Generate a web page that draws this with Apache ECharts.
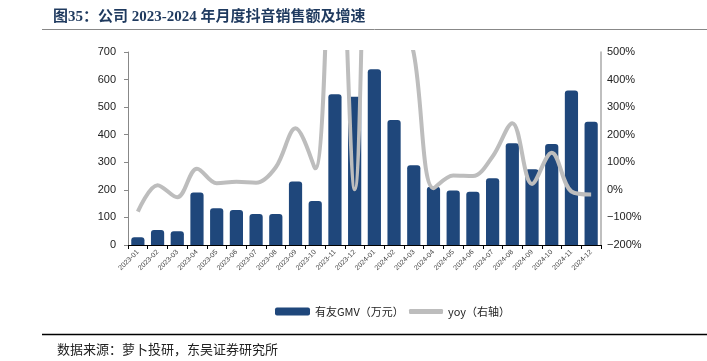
<!DOCTYPE html>
<html>
<head>
<meta charset="utf-8">
<script src="https://cdn.jsdelivr.net/npm/echarts@6/dist/echarts.min.js"></script>
<style>html,body{margin:0;padding:0;background:#fff;}#c{width:707px;height:361px;}</style>
</head>
<body>
<div id="c"></div>
<script>
const categories = ['2023-01','2023-02','2023-03','2023-04','2023-05','2023-06','2023-07','2023-08','2023-09','2023-10','2023-11','2023-12',
  '2024-01','2024-02','2024-03','2024-04','2024-05','2024-06','2024-07','2024-08','2024-09','2024-10','2024-11','2024-12'];
const gmv = [28,54,50,190,133,127,112,112,230,160,547,538,637,453,289,211,198,193,242,369,275,366,560,447];
const yoy = [-79,17,-27,77,24,29,26,82,223,78,1400,2,2175,739,495,6,52,50,121,242,21,135,-6,-17];
const leftTicks = [0,100,200,300,400,500,600,700];
const rightTicks = [-200,-100,0,100,200,300,400,500];

const chart = echarts.init(document.getElementById('c'));
const serifCJK = '"Liberation Serif","Noto Sans CJK SC",serif';
const legendText = {fontFamily: '"Noto Sans CJK SC",sans-serif', fontSize: 11, color: '#222'};
chart.setOption({
  animation: false,
  backgroundColor: '#fff',
  title: [
    {text: '图35：公司 2023-2024 年月度抖音销售额及增速', left: 48, top: 5,
     textStyle: {fontFamily: serifCJK, fontSize: 15, fontWeight: 'bold', color: '#1F3A5F'}},
    {text: '数据来源：萝卜投研，东吴证券研究所', left: 52, top: 339,
     textStyle: {fontFamily: serifCJK, fontSize: 13, fontWeight: 'normal', color: '#222'}}
  ],
  graphic: [
    {type: 'line', shape: {x1: 42, y1: 29.5, x2: 707, y2: 29.5}, style: {stroke: '#888', lineWidth: 1}},
    {type: 'line', shape: {x1: 42, y1: 334.5, x2: 707, y2: 334.5}, style: {stroke: '#000', lineWidth: 1.5}}
  ],
  legend: [
    {top: 301, left: 270, itemWidth: 35, itemHeight: 8, itemGap: 4, textStyle: legendText,
     data: [{name: '有友GMV（万元）', icon: 'roundRect'}]},
    {top: 301, left: 404, itemWidth: 34, itemHeight: 5, textStyle: legendText,
     data: [{name: 'yoy（右轴）', icon: 'roundRect', itemStyle: {color: '#BDBDBD'}}]}
  ],
  grid: {left: 128, right: 106, top: 52, bottom: 116},
  xAxis: {
    type: 'category', data: categories,
    axisLine: {lineStyle: {color: '#000', width: 1}},
    axisTick: {show: true, alignWithLabel: false, length: 4, lineStyle: {color: '#000'}},
    axisLabel: {rotate: 45, fontSize: 7, color: '#444', fontFamily: 'Arial, "Liberation Sans"', margin: 6, interval: 0}
  },
  yAxis: [
    {type: 'value', min: 0, max: 700, interval: 100,
     axisLine: {show: true, lineStyle: {color: '#888'}},
     axisTick: {show: true, length: 4, lineStyle: {color: '#888'}},
     splitLine: {show: false},
     axisLabel: {fontSize: 11, color: '#222', fontFamily: 'Arial, "Liberation Sans"', margin: 12}},
    {type: 'value', min: -200, max: 500, interval: 100,
     axisLine: {show: true, lineStyle: {color: '#AAA', width: 1.5}},
     axisTick: {show: false},
     splitLine: {show: false},
     axisLabel: {fontSize: 11, color: '#222', fontFamily: 'Arial, "Liberation Sans"', margin: 6,
       formatter: v => (v < 0 ? '\u2212' + Math.abs(v) : v) + '%'}}
  ],
  series: [
    {name: '有友GMV（万元）', type: 'bar', data: gmv, yAxisIndex: 0, barCategoryGap: '33%',
     itemStyle: {color: '#1F477B', borderRadius: [3,3,0,0]}},
    {name: 'yoy（右轴）', type: 'line', data: yoy, yAxisIndex: 1, smooth: 0.35, showSymbol: false,
     clip: true, lineStyle: {color: '#BDBDBD', width: 4}, itemStyle: {color: '#BDBDBD'}, z: 3}
  ]
});
</script>
</body>
</html>
